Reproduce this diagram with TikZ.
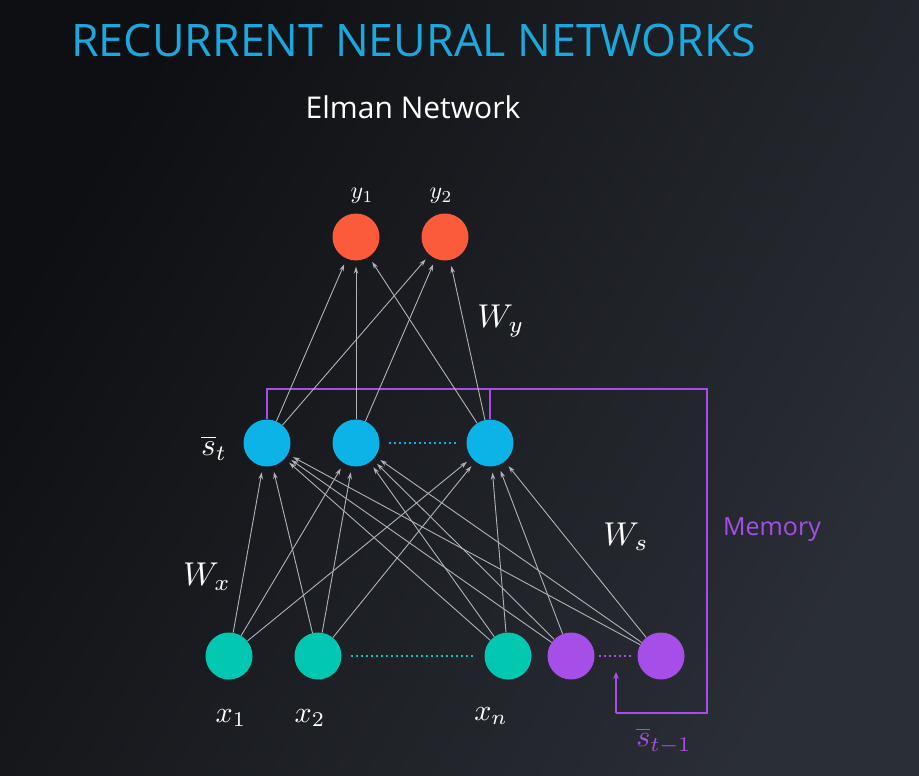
\documentclass[tikz,border=0pt]{standalone}
\usepackage{fontspec}
\newfontfamily\osans{Open Sans}
\usetikzlibrary{arrows.meta,calc}
\definecolor{bgA}{HTML}{0E0F12}
\definecolor{bgB}{HTML}{2A2E35}
\definecolor{titlecyan}{HTML}{1AA9DF}
\definecolor{scyan}{HTML}{0BB3E6}
\definecolor{yorange}{HTML}{FC5B3B}
\definecolor{xteal}{HTML}{02C8B2}
\definecolor{mpurple}{HTML}{A64FE8}
\definecolor{edgegray}{HTML}{B0B3B8}
\begin{document}
\begin{tikzpicture}[x=1pt,y=-1pt,
  neuron/.style={circle, minimum size=47pt, inner sep=0pt},
  conn/.style={draw=edgegray, line width=0.9pt, -{Stealth[length=7pt,width=4.5pt]}, shorten >=6pt},
  lbl/.style={text=white, inner sep=0pt, transform shape, scale=3},
  memline/.style={draw=mpurple, line width=1.4pt},
  dots/.style={line width=1.2pt, dash pattern=on 2pt off 3pt}]
% background
\shade[top color=bgA, bottom color=bgB, shading angle=60] (0,0) rectangle (919,776);
\useasboundingbox (0,0) rectangle (919,776);
% titles
\node[anchor=west, text=titlecyan, inner sep=0pt, font=\osans\fontsize{44.8}{45}\selectfont] (title) at (71,40) {RECURRENT NEURAL NETWORKS};
\node[text=white, inner sep=0pt, font=\osans\fontsize{30}{30}\selectfont] (sub) at (413,107) {Elman Network};
% neurons
\node[neuron, fill=yorange] (y1) at (356,237) {};
\node[neuron, fill=yorange] (y2) at (445,237) {};
\node[neuron, fill=scyan] (s1) at (267,443) {};
\node[neuron, fill=scyan] (s2) at (356,443) {};
\node[neuron, fill=scyan] (s3) at (490,443) {};
\node[neuron, fill=xteal] (x1) at (229,656) {};
\node[neuron, fill=xteal] (x2) at (318,656) {};
\node[neuron, fill=xteal] (xn) at (508,656) {};
\node[neuron, fill=mpurple] (m1) at (571,656) {};
\node[neuron, fill=mpurple] (m2) at (661,656) {};
% memory loop
\coordinate (c1) at (267,389);
\coordinate (c2) at (490,389);
\coordinate (c3) at (707,389);
\coordinate (c4) at (707,713);
\coordinate (c5) at (616,713);
\coordinate (c6) at (616,672);
\draw[memline] (s1.north) -- (c1) -- (c3) -- (c4) -- (c5);
\draw[memline, -{Stealth[length=7pt,width=6pt]}] (c5) -- (c6);
\draw[memline] (s3.north) -- (c2);
% dotted connectors
\draw[dots, draw=scyan] ($(s2.east)+(9,0)$) -- ($(s3.west)+(-9,0)$);
\draw[dots, draw=xteal] ($(x2.east)+(9,0)$) -- ($(xn.west)+(-9,0)$);
\draw[dots, draw=mpurple] ($(m1.east)+(4,0)$) -- ($(m2.west)+(-4,0)$);
% hidden -> output
\foreach \s in {s1,s2,s3} {
  \foreach \y in {y1,y2} {
    \draw[conn] (\s) -- (\y);
  }
}
% input -> hidden
\foreach \i in {x1,x2,xn,m1,m2} {
  \foreach \s in {s1,s2,s3} {
    \draw[conn] (\i) -- (\s);
  }
}
% labels
\node[lbl, scale=0.8] (ly1) at (362,196) {$y_1$};
\node[lbl, scale=0.8] (ly2) at (441,196) {$y_2$};
\node[lbl, scale=1.1] (lwy) at (501,321) {$W_y$};
\node[lbl, scale=1.05] (lst) at (214,448) {$\overline{s}_t$};
\node[lbl, scale=1.1] (lwx) at (207,577) {$W_x$};
\node[lbl, scale=1.1] (lws) at (626,537) {$W_s$};
\node[lbl] (lx1) at (231,718) {$x_1$};
\node[lbl] (lx2) at (310,718) {$x_2$};
\node[lbl] (lxn) at (491,716) {$x_n$};
\node[text=mpurple, inner sep=0pt, font=\osans\fontsize{25}{25}\selectfont] (lmem) at (772,530) {Memory};
\node[lbl, text=mpurple] (lsm) at (664,741) {$\overline{s}_{t-1}$};
\end{tikzpicture}
\end{document}
